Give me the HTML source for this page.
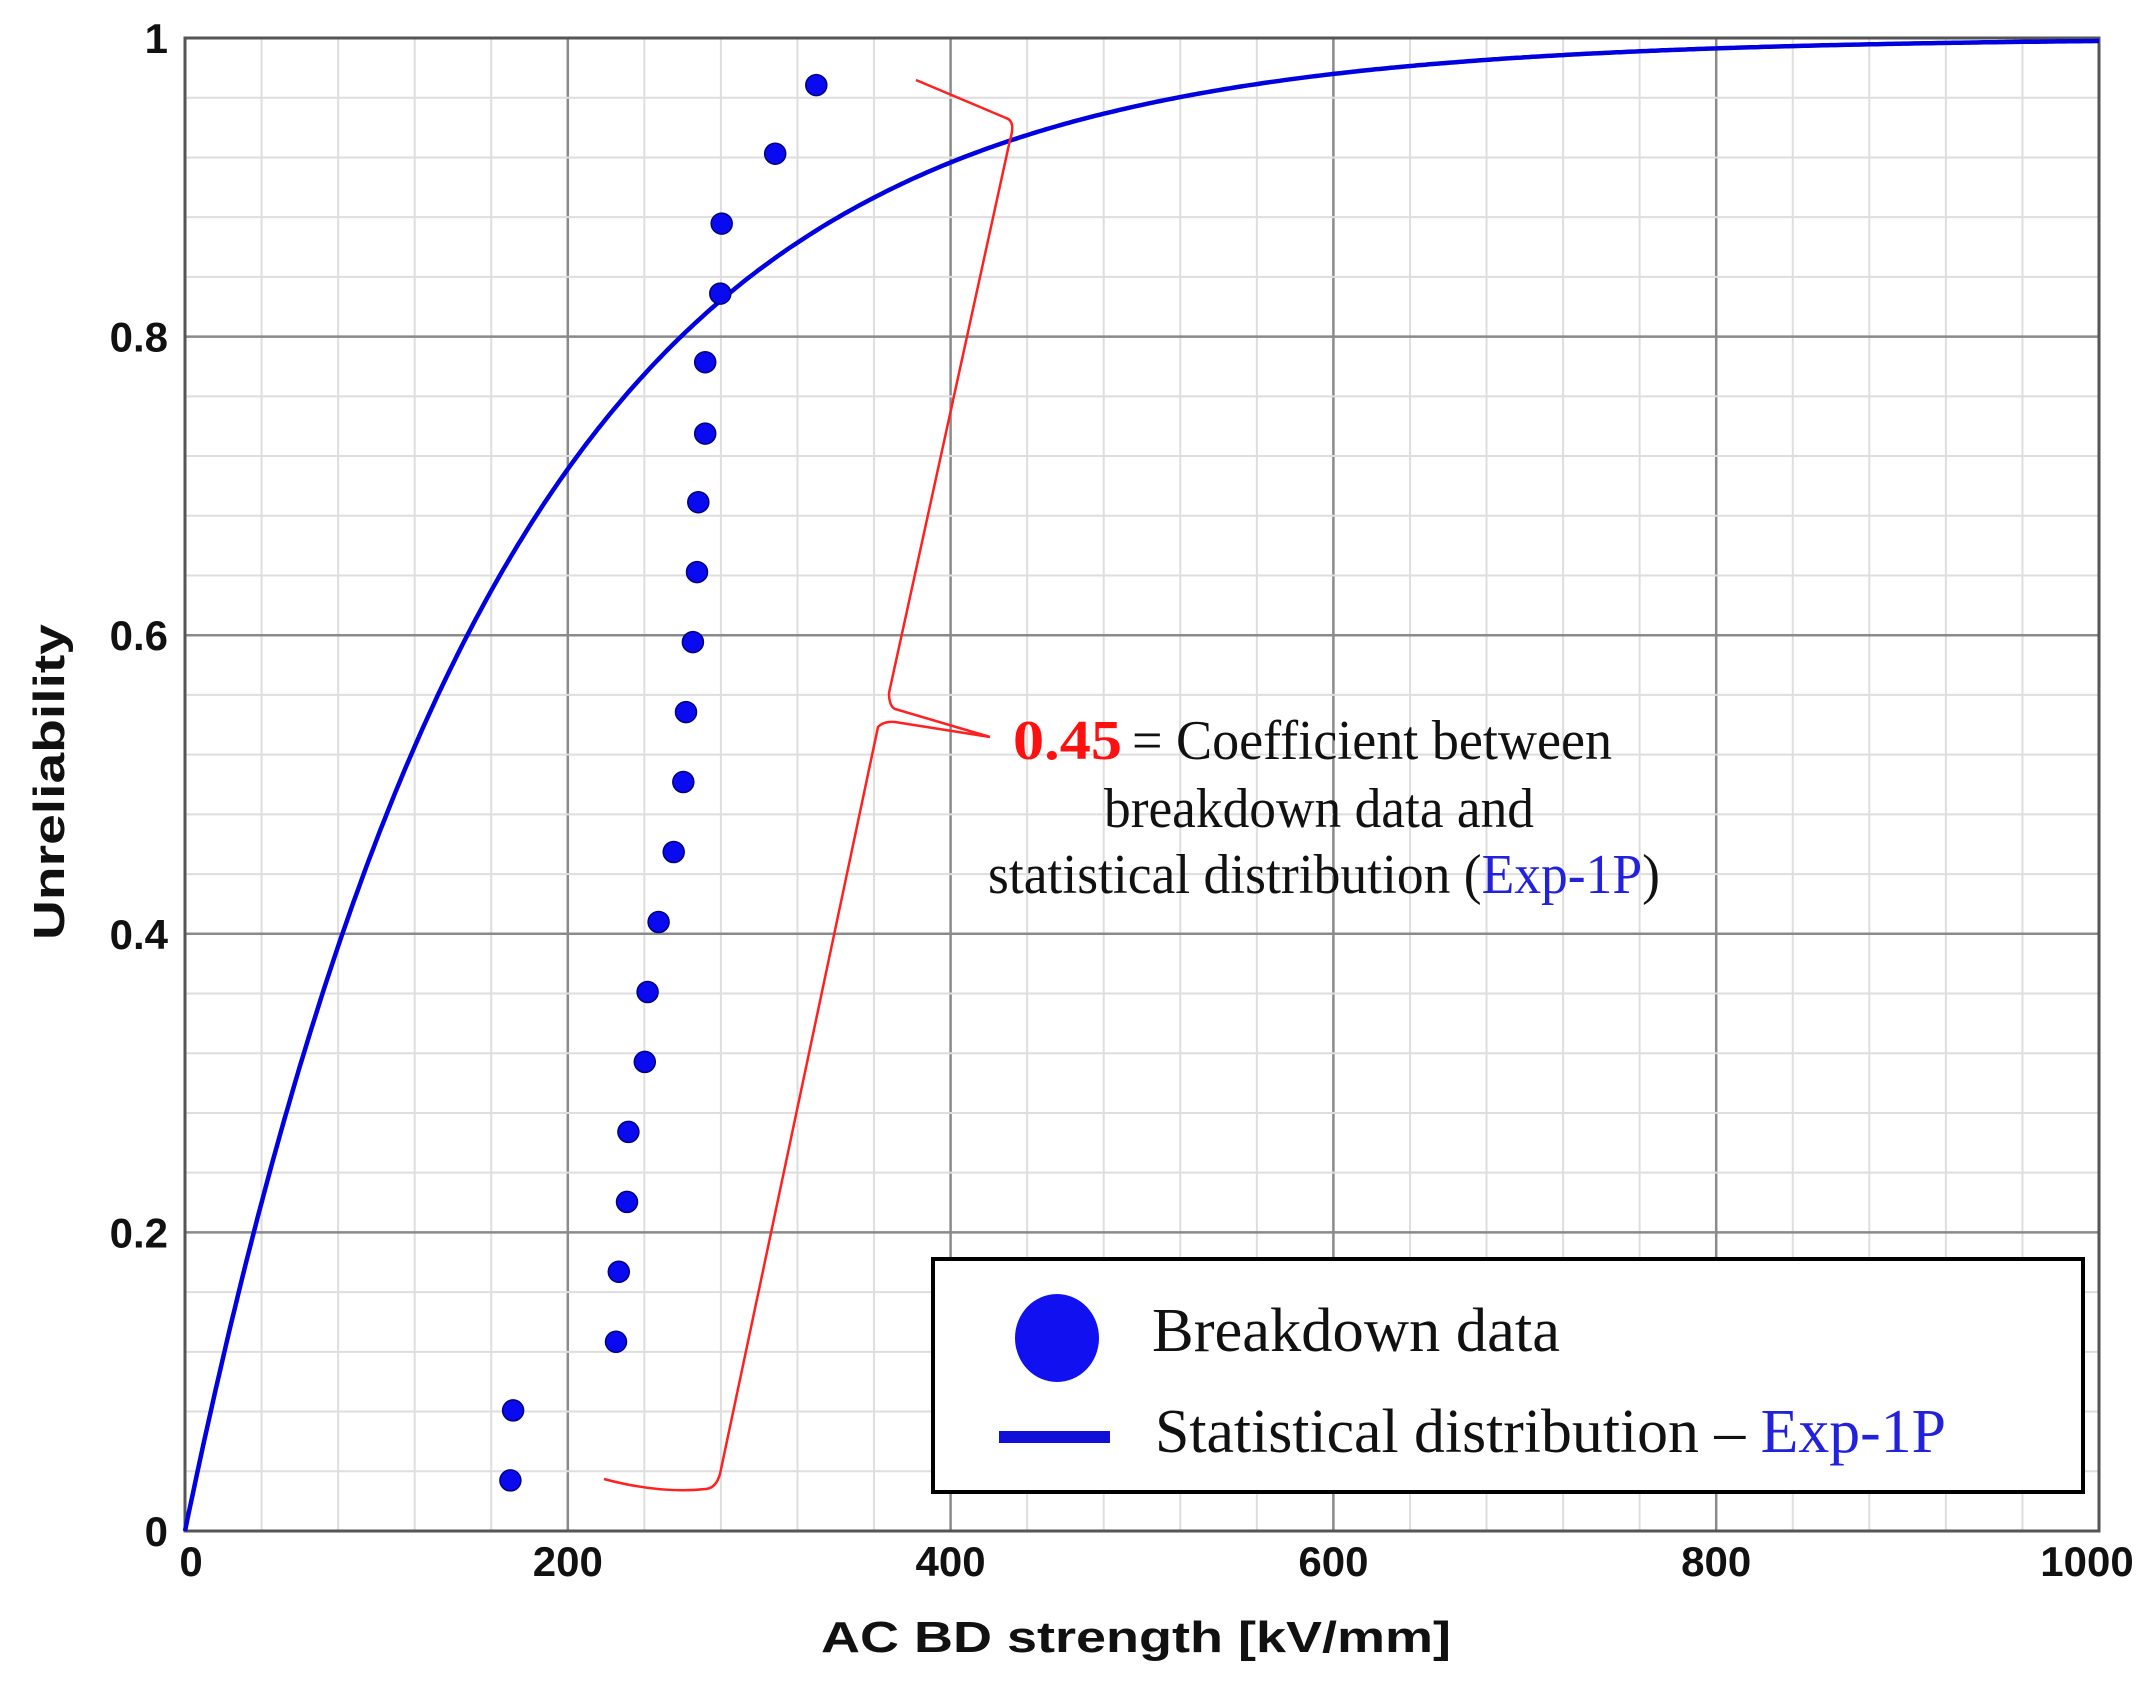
<!DOCTYPE html>
<html><head><meta charset="utf-8"><style>
html,body{margin:0;padding:0;background:#fff;}
svg{display:block;}
</style></head><body>
<svg id="s" width="2151" height="1688" viewBox="0 0 2151 1688" xmlns="http://www.w3.org/2000/svg">
<rect width="2151" height="1688" fill="#fff"/>
<g id="grid"></g>
<rect x="185" y="38" width="1914" height="1493" fill="none" stroke="#555" stroke-width="3"/>
<path id="curve" fill="none" stroke="#0000e0" stroke-width="4.5"/>
<g id="pts" fill="#0a0af0" stroke="#000080" stroke-width="1.5"></g>
<path d="M604,1479 Q660,1494 706,1489 Q716,1488 720,1474 L878,727 Q884,721 895,722 L990,737 M990,737 L895,709 Q889,706 889,693 L1010,140 Q1016,121 1006,118 L916,80" fill="none" stroke="#ff2020" stroke-width="2.5"/>
<g font-family="Liberation Sans, sans-serif" font-weight="bold" font-size="42" fill="#111">
<g id="yt" text-anchor="end"></g>
<g id="xt" text-anchor="middle"></g>
<text x="1136" y="1652" text-anchor="middle" font-size="44" textLength="630" lengthAdjust="spacingAndGlyphs">AC BD strength [kV/mm]</text>
<text transform="translate(64,782) rotate(-90)" text-anchor="middle" font-size="44" textLength="316" lengthAdjust="spacingAndGlyphs">Unreliability</text>
</g>
<g font-family="Liberation Serif, serif" font-size="56" fill="#111">
<text x="1013" y="759" fill="#ff1010" font-weight="bold" textLength="109" lengthAdjust="spacingAndGlyphs">0.45</text>
<text x="1132" y="759" textLength="480" lengthAdjust="spacingAndGlyphs">= Coefficient between</text>
<text x="1104" y="827" textLength="430" lengthAdjust="spacingAndGlyphs">breakdown data and</text>
<text x="988" y="893" textLength="672" lengthAdjust="spacingAndGlyphs">statistical distribution (<tspan fill="#2222dd">Exp-1P</tspan>)</text>
</g>
<rect x="933" y="1259" width="1150" height="233" fill="#fff" stroke="#000" stroke-width="4"/>
<ellipse cx="1057" cy="1338" rx="42" ry="44" fill="#1010f0"/>
<rect x="999" y="1431" width="111" height="12" fill="#1010d8"/>
<g font-family="Liberation Serif, serif" font-size="62" fill="#111">
<text x="1152" y="1351" textLength="408" lengthAdjust="spacingAndGlyphs">Breakdown data</text>
<text x="1155" y="1452" textLength="791" lengthAdjust="spacingAndGlyphs">Statistical  distribution – <tspan fill="#2222dd">Exp-1P</tspan></text>
</g>
</svg>
<script>
function X(v){return 185+v*1.914;}
function Y(v){return 1531-v*1493;}
var g=document.getElementById('grid'),h='';
for(var i=0;i<=25;i++){var x=X(i*40);var maj=i%5==0;h+='<line x1="'+x+'" y1="38" x2="'+x+'" y2="1531" stroke="'+(maj?'#8a8a8a':'#dedede')+'" stroke-width="'+(maj?2.5:2)+'"/>';}
for(var i=0;i<=25;i++){var y=Y(i*0.04);var maj=i%5==0;h+='<line x1="185" y1="'+y+'" x2="2099" y2="'+y+'" stroke="'+(maj?'#8a8a8a':'#dedede')+'" stroke-width="'+(maj?2.5:2)+'"/>';}
g.innerHTML=h;
var d='';for(var v=0;v<=1000;v+=2){var F=1-Math.exp(-v/161);d+=(v?'L':'M')+X(v).toFixed(1)+','+Y(F).toFixed(1);}
document.getElementById('curve').setAttribute('d',d);
var P=[[372,1079],[374,1028],[449,978],[451,927],[457,876],[458,825],[470,774],[472,723],[480,672],[491,621],[498,570],[500,519],[505,468],[508,417],[509,366],[514,316],[514,264],[525,214],[526,163],[565,112],[595,62]];
var ph='';P.forEach(function(p){ph+='<circle cx="'+(p[0]*1.372).toFixed(1)+'" cy="'+(p[1]*1.372).toFixed(1)+'" r="10.5"/>';});
document.getElementById('pts').innerHTML=ph;
var yt='',lab=['0','0.2','0.4','0.6','0.8','1'];
for(var i=0;i<6;i++){yt+='<text x="168" y="'+(Y(i*0.2)+15)+'">'+lab[i]+'</text>';}
document.getElementById('yt').innerHTML=yt;
var xt='';for(var i=0;i<=5;i++){var xx=X(i*200);if(i==0)xx+=6;if(i==5)xx-=12;xt+='<text x="'+xx+'" y="1576">'+(i*200)+'</text>';}
document.getElementById('xt').innerHTML=xt;
</script>
</body></html>
